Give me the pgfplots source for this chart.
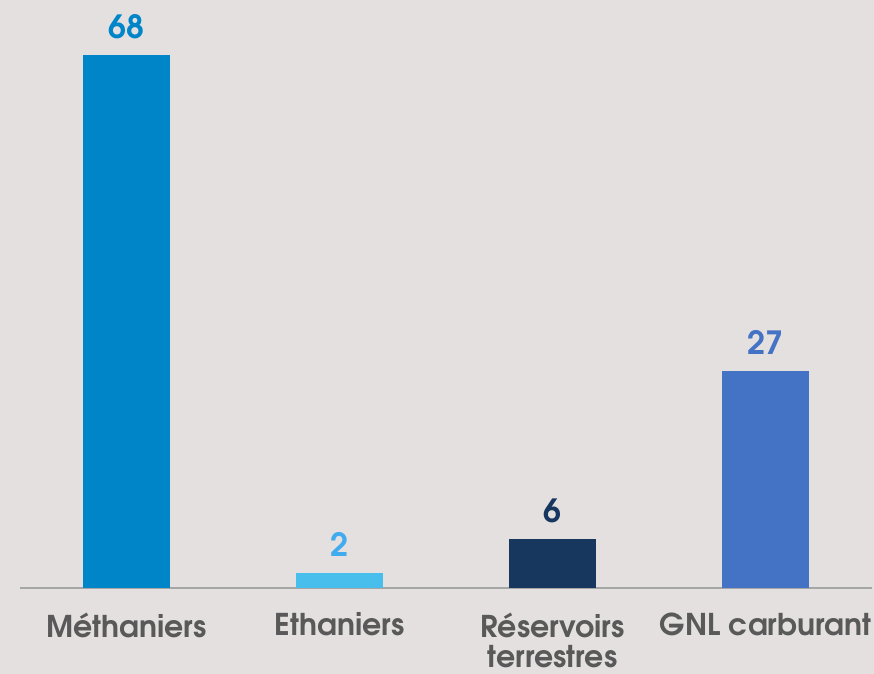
\documentclass[border=0pt]{standalone}
\usepackage{fontspec}
\setmainfont{texgyreadventor}[Extension=.otf, UprightFont=*-regular, BoldFont=*-bold]
\usepackage{pgfplots}
\pgfplotsset{compat=1.18}
\definecolor{bg}{HTML}{E4E0E0}
\definecolor{cMeth}{HTML}{0085C8}
\definecolor{cEth}{HTML}{48BEED}
\definecolor{cRes}{HTML}{17375E}
\definecolor{cGnl}{HTML}{4472C4}
\definecolor{lblgray}{HTML}{595959}
\definecolor{axgray}{HTML}{A6A6A6}
\begin{document}
\begin{tikzpicture}
\fill[bg] (-10pt,-43pt) rectangle (427pt,294pt);
\begin{axis}[
    scale only axis,
    width=426pt, height=294pt,
    xmin=-0.5, xmax=3.5,
    ymin=0, ymax=75,
    axis x line*=bottom,
    axis y line=none,
    x axis line style={draw=axgray, line width=1pt, -},
    xtick={0,1,2,3},
    xticklabels={M\'ethaniers, Ethaniers, {R\'eservoirs\\terrestres}, GNL carburant},
    xtick style={draw=none},
    ytick=\empty,
    xticklabel style={font=\fontsize{15}{15}\selectfont\bfseries, text=lblgray, align=center, anchor=north, yshift=-4.5pt},
    /pgf/number format/assume math mode=true,
    ybar, bar width=43.5pt, bar shift=0pt,
    point meta=explicit,
    nodes near coords,
    nodes near coords style={font=\fontsize{16}{16}\selectfont\bfseries, yshift=4.5pt},
    clip=false,
]
% bar heights as drawn, labels as printed
\addplot[fill=cMeth, draw=none, nodes near coords style={text=cMeth}] coordinates {(0,68) [68]};
\addplot[fill=cEth, draw=none, nodes near coords style={text=cEth!90!blue}] coordinates {(1,1.95) [2]};
\addplot[fill=cRes, draw=none, nodes near coords style={text=cRes}] coordinates {(2,6.2) [6]};
\addplot[fill=cGnl, draw=none, nodes near coords style={text=cGnl}] coordinates {(3,27.7) [27]};
\end{axis}
\pgfresetboundingbox
\path (-10pt,-43pt) rectangle (427pt,294pt);
\end{tikzpicture}
\end{document}
